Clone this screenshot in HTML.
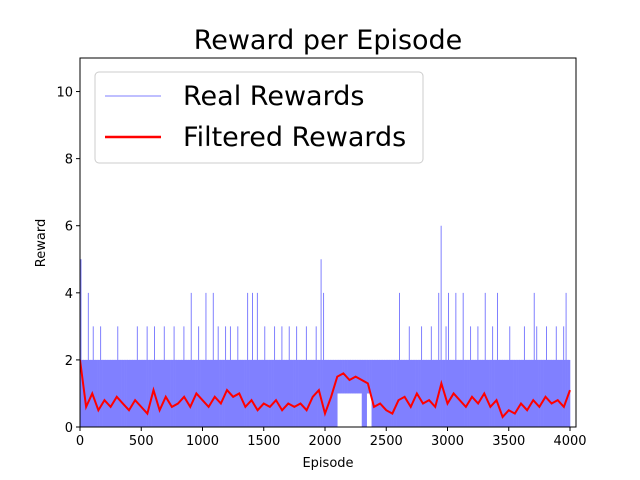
<!DOCTYPE html>
<html><head><meta charset="utf-8"><style>
html,body{margin:0;padding:0;background:#fff;}
svg{display:block;font-family:"DejaVu Sans","Liberation Sans",sans-serif;}
</style></head><body>
<svg id="chart" width="640" height="480" viewBox="0 0 640 480"></svg>
<script>
const realStep = 20;
const realRewards = [
5,2,2,4,2,3,2,2,3,2, 2,2,2,2,2,3,2,2,2,2, 2,2,2,3,2,2,2,3,2,2, 3,2,2,2,3,2,2,2,3,2,
2,2,3,2,2,4,2,2,3,2, 2,4,2,2,4,2,3,2,2,3, 2,3,2,2,3,2,2,2,4,2, 4,2,4,2,2,3,2,2,2,3,
2,2,3,2,2,3,2,2,3,2, 2,2,3,2,2,2,3,2,5,4, 2,2,2,2,2,2,2,2,2,2, 2,2,2,2,2,2,2,2,2,2,
2,2,2,2,2,2,2,2,2,2, 4,2,2,2,3,2,2,2,2,3, 2,2,2,3,2,2,4,6,2,3, 4,2,2,4,2,2,4,2,2,3,
2,2,3,2,2,4,2,2,3,2, 4,2,2,2,2,3,2,2,2,2, 2,3,2,2,2,4,3,2,2,2, 3,2,2,2,3,2,2,3,4,2
];
const realLow = [
0,0,0,0,0,0,0,0,0,0, 0,0,0,0,0,0,0,0,0,0, 0,0,0,0,0,0,0,0,0,0, 0,0,0,0,0,0,0,0,0,0,
0,0,0,0,0,0,0,0,0,0, 0,0,0,0,0,0,0,0,0,0, 0,0,0,0,0,0,0,0,0,0, 0,0,0,0,0,0,0,0,0,0,
0,0,0,0,0,0,0,0,0,0, 0,0,0,0,0,0,0,0,0,0, 0,0,0,0,0,1,1,1,1,1, 1,1,1,1,1,0,0,1,1,0,
0,0,0,0,0,0,0,0,0,0, 0,0,0,0,0,0,0,0,0,0, 0,0,0,0,0,0,0,0,0,0, 0,0,0,0,0,0,0,0,0,0,
0,0,0,0,0,0,0,0,0,0, 0,0,0,0,0,0,0,0,0,0, 0,0,0,0,0,0,0,0,0,0, 0,0,0,0,0,0,0,0,0,0
];
const filtStep = 50;
const filteredRewards = [2.0,0.6,1.0,0.5,0.8,0.6,0.9,0.7,0.5,0.8,0.6,0.4,1.1,0.5,0.9,0.6,0.7,0.9,0.6,1.0,
0.8,0.6,0.9,0.7,1.1,0.9,1.0,0.6,0.8,0.5,0.7,0.6,0.8,0.5,0.7,0.6,0.7,0.5,0.9,1.1,
0.4,0.9,1.5,1.6,1.4,1.5,1.4,1.3,0.6,0.7,0.5,0.4,0.8,0.9,0.6,1.0,0.7,0.8,0.6,1.3,
0.7,1.0,0.8,0.6,0.9,0.7,1.0,0.6,0.8,0.3,0.5,0.4,0.7,0.5,0.8,0.6,0.9,0.7,0.8,0.6,1.1];
const xTicks = [0,500,1000,1500,2000,2500,3000,3500,4000];
const yTicks = [0,2,4,6,8,10];

const L=80,R=576,T=58,B=427, XMAX=4049, YMAX=11;
const sx=v=>L+(v/XMAX)*(R-L);
const sy=v=>B-(v/YMAX)*(B-T);
const svg=document.getElementById('chart');
const NS='http://www.w3.org/2000/svg';
function mk(tag,attrs,parent){const e=document.createElementNS(NS,tag);for(const k in attrs)e.setAttribute(k,attrs[k]);(parent||svg).appendChild(e);return e;}

const clip=mk('clipPath',{id:'clipArea'});mk('rect',{x:L,y:T,width:R-L,height:B-T},clip);

const realG=mk('g',{'clip-path':'url(#clipArea)'});


realRewards.forEach((v,i)=>{
  const x0=sx(i*realStep), x1=sx((i+1)*realStep);
  const top=Math.min(v,2), lo=realLow[i];
  const r=mk('rect',{x:x0,y:sy(top),width:Math.max(0.1,x1-x0+0.3),height:sy(lo)-sy(top),fill:'#8080ff'},realG);
  
  
  const ln=mk('line',{x1:x0+1,x2:x0+1,y1:sy(lo),y2:sy(v),stroke:'#8080ff','stroke-width':1},realG);
  
  
});

let d2='';filteredRewards.forEach((v,i)=>{d2+=(i?'L':'M')+sx(i*filtStep).toFixed(2)+','+sy(v).toFixed(2);});
const filt=mk('path',{d:d2,fill:'none',stroke:'#ff0000','stroke-width':2,'clip-path':'url(#clipArea)'});



const frame=mk('rect',{x:L,y:T,width:R-L,height:B-T,fill:'none',stroke:'#000','stroke-width':1});



xTicks.forEach(v=>{const x=sx(v);mk('line',{x1:x,x2:x,y1:B,y2:B+4,stroke:'#000'});
const t=mk('text',{x:x,y:B+18,'text-anchor':'middle','font-size':13});t.textContent=v;

});
yTicks.forEach(v=>{const y=sy(v);mk('line',{x1:L-4,x2:L,y1:y,y2:y,stroke:'#000'});
const t=mk('text',{x:L-7,y:y+5,'text-anchor':'end','font-size':13});t.textContent=v;

});

const title=mk('text',{x:328,y:49,'text-anchor':'middle','font-size':27});title.textContent='Reward per Episode';


const xl=mk('text',{x:328,y:467,'text-anchor':'middle','font-size':13});xl.textContent='Episode';


const yl=mk('text',{x:45,y:243,'text-anchor':'middle','font-size':13,transform:'rotate(-90 45 243)'});yl.textContent='Reward';



const lg=mk('g',{});


mk('rect',{x:95,y:72,width:328,height:91,rx:4,fill:'#fff','fill-opacity':0.8,stroke:'#ccc'},lg);
mk('line',{x1:105,x2:161,y1:96,y2:96,stroke:'#7f7fff','stroke-width':1},lg);
const l1=mk('text',{x:183,y:105,'font-size':27},lg);l1.textContent='Real Rewards';


mk('line',{x1:105,x2:161,y1:137,y2:137,stroke:'#ff0000','stroke-width':2.5},lg);
const l2=mk('text',{x:183,y:146,'font-size':27},lg);l2.textContent='Filtered Rewards';


</script>
</body></html>
